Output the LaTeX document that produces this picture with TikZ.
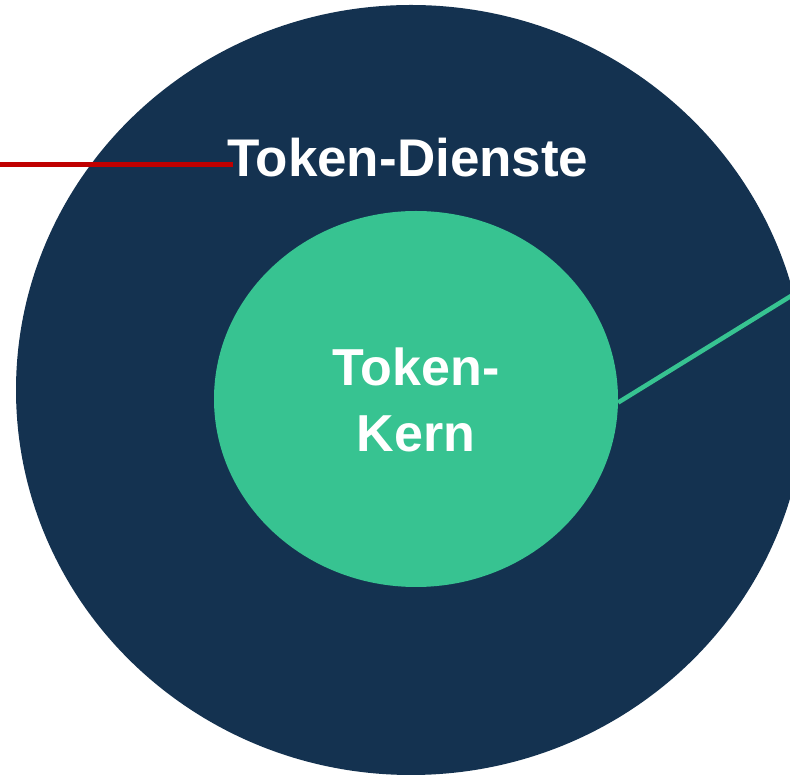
\documentclass[tikz,border=0pt]{standalone}
\usepackage{fontspec}
\setmainfont{Liberation Sans}
\usetikzlibrary{shapes.geometric,calc}
\definecolor{navy}{HTML}{143250}
\definecolor{mint}{HTML}{37C391}
\definecolor{redline}{HTML}{C00000}
\begin{document}
\begin{tikzpicture}[x=1pt,y=1pt,
  lbl/.style={text=white,font=\fontsize{52}{66}\selectfont\bfseries,inner sep=0pt},
  ring/.style={ellipse,inner sep=0pt}]
\useasboundingbox (0,0) rectangle (790,776);
\clip (0,0) rectangle (790,776);
\node[ring,fill=navy,minimum width=790,minimum height=770] (outer) at (411,386) {};
\node[ring,fill=mint,minimum width=404,minimum height=376] (inner) at (416,377) {};
\node[lbl,align=center] (kern) at (416,376) {Token-\\Kern};
\node[lbl,font=\fontsize{53}{66}\selectfont\bfseries,anchor=base west] (dienste) at (227,599) {Token-Dienste};
\coordinate (redstart) at (0,611.5);
\coordinate (greenend) at (791,480);
\draw[redline,line width=5.5pt] (redstart) -- ($(dienste.base west)+(6,12.5)$);
\draw[mint,line width=4.5pt] (inner.-1.7) -- (greenend);
\end{tikzpicture}
\end{document}
